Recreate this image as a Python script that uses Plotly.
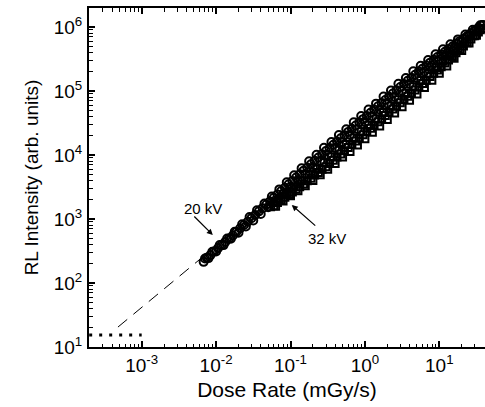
import plotly.graph_objects as go

# 20 kV data (open circles), pass A
dose_20kv = [0.0068, 0.0071, 0.0079, 0.0089, 0.0100, 0.0112, 0.0126, 0.0141, 0.0158, 0.0178,
             0.0200, 0.0224, 0.0251, 0.0282, 0.0316, 0.0355, 0.0398, 0.0447, 0.0501, 0.0562,
             0.0631, 0.0708, 0.0794, 0.0891, 0.100, 0.112, 0.126, 0.141, 0.158, 0.178,
             0.200, 0.224, 0.251, 0.282, 0.316, 0.355, 0.398, 0.447, 0.501, 0.562,
             0.631, 0.708, 0.794, 0.891, 1.00, 1.12, 1.26, 1.41, 1.58, 1.78,
             2.00, 2.24, 2.51, 2.82, 3.16, 3.55, 3.98, 4.47, 5.01, 5.62,
             6.31, 7.08, 7.94, 8.91, 10.0, 11.2, 12.6, 14.1, 15.8, 17.8,
             20.0, 22.4, 25.1, 28.2, 31.6, 35.5, 39.0]
rl_20kv = [214, 241, 245, 307, 310, 392, 391, 494, 490, 632,
           610, 829, 766, 1072, 948, 1367, 1194, 1743, 1528, 2248,
           1956, 2903, 2461, 3742, 3150, 4816, 4032, 6204, 5056, 8010,
           6400, 10080, 8158, 12970, 10110, 15980, 12940, 20560, 16030, 25290,
           20510, 32570, 25410, 40540, 32500, 51520, 40320, 63450, 51350, 81880,
           64000, 101900, 81580, 129700, 101100, 159800, 129400, 203400, 160300, 247300,
           201900, 304400, 250100, 374200, 310000, 448000, 384300, 535800, 474000, 640800,
           590000, 761600, 727900, 902400, 900600, 1065000, 1072500]

# 20 kV data, pass B
dose_20kv_b = [0.0075, 0.0084, 0.0094, 0.0106, 0.0119, 0.0133, 0.0150, 0.0168, 0.0188, 0.0211,
               0.0237, 0.0266, 0.0299, 0.0335, 0.0376, 0.0422, 0.0473, 0.0531, 0.0596, 0.0668,
               0.0750, 0.0841, 0.0944, 0.106, 0.119, 0.133, 0.150, 0.168, 0.188, 0.211,
               0.237, 0.266, 0.299, 0.335, 0.376, 0.422, 0.473, 0.531, 0.596, 0.668,
               0.750, 0.841, 0.944, 1.06, 1.19, 1.33, 1.50, 1.68, 1.88, 2.11,
               2.37, 2.66, 2.99, 3.35, 3.76, 4.22, 4.73, 5.31, 5.96, 6.68,
               7.50, 8.41, 9.44, 10.6, 11.9, 13.3, 15.0, 16.8, 18.8, 21.1,
               23.7, 26.6, 29.9, 33.5, 37.6]
rl_20kv_b = [248, 273, 310, 350, 393, 439, 495, 554, 630, 717,
             806, 904, 1032, 1156, 1316, 1477, 1679, 1885, 2146, 2405,
             2738, 3070, 3493, 3922, 4463, 4988, 5700, 6384, 7144, 8124,
             9125, 10240, 11510, 12900, 14480, 16250, 18210, 20440, 22950, 25720,
             28880, 32380, 36340, 40810, 45820, 51210, 57750, 64680, 72380, 81240,
             91250, 102400, 115100, 129000, 144800, 160400, 179700, 201800, 223500, 250500,
             277500, 307000, 339800, 371000, 410600, 452200, 495000, 546000, 601600, 654100,
             722900, 798000, 882100, 971500, 1071600]

# 32 kV data (open squares), pass A
dose_32kv = [0.054, 0.0600, 0.0631, 0.0708, 0.0794, 0.0891, 0.100, 0.112, 0.126, 0.141,
             0.158, 0.178, 0.200, 0.224, 0.251, 0.282, 0.316, 0.355, 0.398, 0.447,
             0.501, 0.562, 0.631, 0.708, 0.794, 0.891, 1.00, 1.12, 1.26, 1.41,
             1.58, 1.78, 2.00, 2.24, 2.51, 2.82, 3.16, 3.55, 3.98, 4.47,
             5.01, 5.62, 6.31, 7.08, 7.94, 8.91, 10.0, 11.2, 12.6, 14.1,
             15.8, 17.8, 20.0, 22.4, 25.1, 28.2, 31.6, 35.5, 39.0]
rl_32kv = [1550, 1800, 1578, 2089, 1906, 2584, 2300, 3192, 2772, 3948,
           3318, 4895, 4000, 6048, 4895, 7614, 6004, 9408, 7363, 11850,
           9269, 14610, 11360, 18410, 14290, 23170, 18000, 29120, 22680, 36660,
           28440, 46280, 36000, 58240, 45180, 73320, 56880, 92300, 71640, 116200,
           90180, 146100, 113600, 184100, 146900, 231700, 190000, 291200, 245700, 366600,
           323900, 462800, 430000, 582400, 564800, 733200, 742600, 905300, 955500]

# 32 kV data, pass B
dose_32kv_b = [0.0596, 0.0668, 0.0750, 0.0841, 0.0944, 0.106, 0.119, 0.133, 0.150, 0.168,
               0.188, 0.211, 0.237, 0.266, 0.299, 0.335, 0.376, 0.422, 0.473, 0.531,
               0.596, 0.668, 0.750, 0.841, 0.944, 1.06, 1.19, 1.33, 1.50, 1.68,
               1.88, 2.11, 2.37, 2.66, 2.99, 3.35, 3.76, 4.22, 4.73, 5.31,
               5.96, 6.68, 7.50, 8.41, 9.44, 10.6, 11.9, 13.3, 15.0, 16.8,
               18.8, 21.1, 23.7, 26.6, 29.9, 33.5, 37.6]
rl_32kv_b = [1609, 1804, 1988, 2187, 2407, 2650, 2916, 3192, 3525, 3948,
             4324, 4853, 5333, 5985, 6578, 7370, 8272, 9284, 10410, 11680,
             13110, 14700, 16500, 18500, 20770, 23320, 26180, 29260, 33000, 36960,
             41360, 46420, 52140, 58520, 65780, 73700, 82720, 92840, 104100, 116800,
             131100, 147000, 168800, 189200, 212400, 238500, 273700, 305900, 345000, 394800,
             441800, 506400, 568800, 651700, 732600, 837500, 940000]

# linear extrapolation (dashed) and detection limit (dotted)
fit_dose = [0.00048, 0.0062]
fit_rl = [20.5, 240]
limit_dose = [0.000197, 0.001]
limit_rl = [15.4, 15.4]

x_tickvals = [1e-3, 1e-2, 1e-1, 1e0, 1e1]
x_ticktext = ["10<sup>-3</sup>", "10<sup>-2</sup>", "10<sup>-1</sup>", "10<sup>0</sup>", "10<sup>1</sup>"]
y_tickvals = [1e1, 1e2, 1e3, 1e4, 1e5, 1e6]
y_ticktext = ["10<sup>1</sup>", "10<sup>2</sup>", "10<sup>3</sup>", "10<sup>4</sup>", "10<sup>5</sup>", "10<sup>6</sup>"]
minor_digits = [2, 3, 4, 5, 6, 7, 8, 9]
x_minor = [m * 10.0 ** d for d in range(-4, 2) for m in minor_digits]
y_minor = [m * 10.0 ** d for d in range(1, 7) for m in minor_digits]

FONT = "Liberation Sans, Arial, sans-serif"
XR = [-3.708, 1.614]
YR = [1, 6.297]

fig = go.Figure()
fig.add_trace(go.Scatter(x=fit_dose, y=fit_rl, mode="lines",
                         line=dict(color="black", width=1, dash="12px,8px"), showlegend=False))
fig.add_trace(go.Scatter(x=limit_dose, y=limit_rl, mode="lines",
                         line=dict(color="black", width=3, dash="3px,7px"), showlegend=False))
mk_c = dict(symbol="circle-open", size=8, color="black", line=dict(width=2))
mk_s = dict(symbol="square-open", size=7, color="black", line=dict(width=2))
fig.add_trace(go.Scatter(x=dose_20kv, y=rl_20kv, mode="markers", name="20 kV", marker=mk_c, showlegend=False))
fig.add_trace(go.Scatter(x=dose_20kv_b, y=rl_20kv_b, mode="markers", name="20 kV", marker=mk_c, showlegend=False))
fig.add_trace(go.Scatter(x=dose_32kv, y=rl_32kv, mode="markers", name="32 kV", marker=mk_s, showlegend=False))
fig.add_trace(go.Scatter(x=dose_32kv_b, y=rl_32kv_b, mode="markers", name="32 kV", marker=mk_s, showlegend=False))

# arrows
fig.add_annotation(x=-2.044, y=2.75, xref="x", yref="y", text="", showarrow=True,
                   ax=-20, ay=-20, arrowhead=2, arrowsize=1, arrowwidth=1.2, arrowcolor="black")
fig.add_annotation(x=-0.983, y=3.22, xref="x", yref="y", text="", showarrow=True,
                   ax=25, ay=22, arrowhead=2, arrowsize=1, arrowwidth=1.2, arrowcolor="black")
fig.add_annotation(x=-2.18, y=3.17, xref="x", yref="y", text="20 kV", showarrow=False,
                   font=dict(family=FONT, size=15, color="black"))
fig.add_annotation(x=-0.511, y=2.70, xref="x", yref="y", text="32 kV", showarrow=False,
                   font=dict(family=FONT, size=15, color="black"))

axis_common = dict(showgrid=False, zeroline=False, showline=True, linecolor="black", linewidth=2,
                   ticks="inside", ticklen=6, tickwidth=1.5, tickcolor="black",
                   tickfont=dict(family=FONT, size=19, color="black"))

fig.update_layout(
    width=485, height=407, margin=dict(l=89, r=0, t=8, b=60),
    paper_bgcolor="white", plot_bgcolor="white", showlegend=False,
    xaxis=dict(type="log", range=XR, tickvals=x_tickvals, ticktext=x_ticktext, mirror="ticks",
               minor=dict(tickmode="array", tickvals=x_minor, ticks="inside", ticklen=3.5,
                          tickwidth=1, tickcolor="black", showgrid=False),
               title=dict(text="Dose Rate (mGy/s)", font=dict(family=FONT, size=21, color="black"), standoff=8),
               **axis_common),
    yaxis=dict(type="log", range=YR, tickvals=y_tickvals, ticktext=y_ticktext, mirror=False,
               ticklabelstandoff=1,
               minor=dict(tickmode="array", tickvals=y_minor, ticks="inside", ticklen=3.5,
                          tickwidth=1, tickcolor="black", showgrid=False),
               title=dict(text="RL Intensity (arb. units)", font=dict(family=FONT, size=19, color="black"), standoff=10),
               **axis_common),
)

fig.write_html("out.html")
